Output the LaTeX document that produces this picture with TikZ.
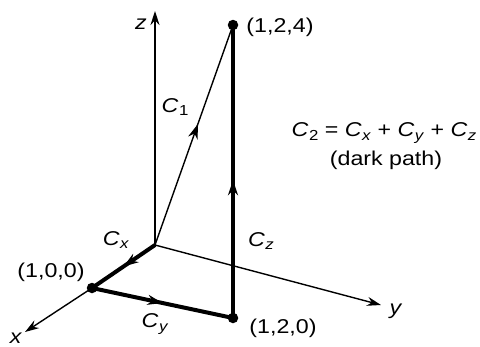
\documentclass[tikz,border=0pt]{standalone}
\usepackage{fontspec}
\setmainfont[FakeStretch=1.16]{Liberation Sans}
\usetikzlibrary{arrows.meta,decorations.markings}
\newcommand\CC[1]{\textit{C}\kern0.5pt\raisebox{-0.35ex}{\fontsize{14.5}{14}\selectfont\textit{#1}}}
\newcommand\CN[1]{\textit{C}\kern0.5pt\raisebox{-0.35ex}{\fontsize{14.5}{14}\selectfont #1}}
\tikzset{
  thinline/.style={line width=1.4pt},
  darkline/.style={line width=4pt},
  axistip/.style={-{Stealth[length=14pt,width=9pt]}},
  midarrow/.style={postaction={decorate},decoration={markings,
     mark=at position #1 with {\arrow{Stealth[length=15pt,width=10pt]}}}},
  lbl/.style={font=\fontsize{20}{23}\selectfont, inner sep=0pt},
  dotpt/.style={circle, fill=black, inner sep=0pt, minimum size=10.5pt}
}
\begin{document}
\begin{tikzpicture}[x=1pt,y=-1pt]
\useasboundingbox (0,0) rectangle (480,346);
% points
\coordinate (O) at (155,245);
\node[dotpt] (P100) at (92,288) {};
\node[dotpt] (P120) at (233,318) {};
\node[dotpt] (P124) at (233,25) {};
\coordinate (Xt) at (25,332);
\coordinate (Yt) at (381,305);
\coordinate (Zt) at (155,11);
% axes
\draw[thinline,axistip] (O) -- (Zt);
\draw[thinline,axistip] (O) -- (Yt);
\draw[thinline] (O) -- (P100.center);
\draw[thinline,axistip] (P100.center) -- (Xt);
% C1
\draw[thinline,midarrow=0.55] (O) -- (P124.center);
% dark path
\draw[darkline,midarrow=0.5] (O) -- (P100.center);
\draw[darkline,midarrow=0.5] (P100.center) -- (P120.center);
\draw[darkline,midarrow=0.47] (P120.center) -- (P124.center);
% labels
\node[lbl] (zl) at (141,24) {\textit{z}};
\node[lbl] (yl) at (396,311) {\textit{y}};
\node[lbl] (xl) at (16,338) {\textit{x}};
\node[lbl] (l124) at (280,27) {(1,2,4)};
\node[lbl] (l100) at (51,272) {(1,0,0)};
\node[lbl] (l120) at (283,328) {(1,2,0)};
\node[lbl] (c1) at (175,107) {\CN{1}};
\node[lbl] (cx) at (116,240) {\CC{x}};
\node[lbl] (cy) at (155,324) {\CC{y}};
\node[lbl] (cz) at (261,241) {\CC{z}};
\node[lbl] (eq) at (384,133) {\CN{2} = \CC{x} + \CC{y} + \CC{z}};
\node[lbl] (dp) at (386,160) {(dark path)};
\end{tikzpicture}
\end{document}
